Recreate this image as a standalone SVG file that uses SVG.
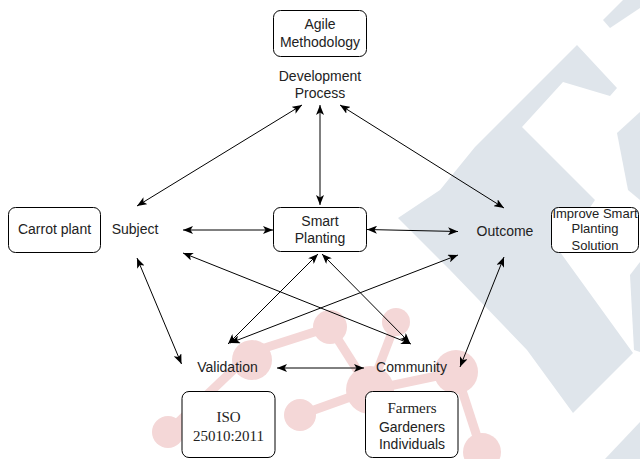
<svg xmlns="http://www.w3.org/2000/svg" width="640" height="459" viewBox="0 0 640 459">
<defs>
<style>
.bx{fill:#fff;stroke:#000;stroke-width:1}
.t{font-family:"Liberation Sans",Arial,sans-serif;font-size:14px;fill:#222;text-anchor:middle}
.t13{font-family:"Liberation Sans",Arial,sans-serif;font-size:13px;fill:#222;text-anchor:middle}
.s{font-family:"Liberation Serif","Times New Roman",serif;font-size:15px;fill:#222;text-anchor:middle}
#connectors line{stroke:#000;stroke-width:1;fill:none;marker-start:url(#ah);marker-end:url(#ah)}
.wb{fill:#dfe5eb}
.wp{fill:#f4d7d7}
.wpl{stroke:#f4d7d7;stroke-width:9;fill:none}
</style>
<marker id="ah" viewBox="0 0 10 8" refX="10" refY="4" markerWidth="10" markerHeight="8" markerUnits="userSpaceOnUse" orient="auto-start-reverse">
<path d="M0,0 L10,4 L0,8 L2.5,4 z" fill="#000"/>
</marker>
</defs>
<rect width="640" height="459" fill="#fff"/>
<g id="watermark">
<polygon class="wb" points="577,45 617,88 610,96 563,82 522,127 595,200 560,252 633,353 573,413 527,350 450,270 398,218 440,190 475,147"/>
<polygon class="wb" points="603,20 623,0 640,0 640,8 610,28"/>
<polygon class="wb" points="617,133 640,112 640,200 628,190"/>
<polygon class="wb" points="630,275 640,262 640,352 634,350"/>
<polygon class="wb" points="605,459 640,422 640,459"/>
<g class="wpl">
<line x1="330" y1="327" x2="370" y2="390"/>
<line x1="396" y1="322" x2="370" y2="390"/>
<line x1="252" y1="352" x2="330" y2="327"/>
<line x1="370" y1="390" x2="456" y2="372"/>
<line x1="370" y1="390" x2="300" y2="415"/>
<line x1="456" y1="372" x2="482" y2="452"/>
<line x1="252" y1="352" x2="168" y2="432"/>
</g>
<circle class="wp" cx="330" cy="327" r="17"/>
<circle class="wp" cx="396" cy="322" r="14"/>
<circle class="wp" cx="252" cy="360" r="20"/>
<circle class="wp" cx="370" cy="390" r="24"/>
<circle class="wp" cx="456" cy="372" r="22"/>
<circle class="wp" cx="300" cy="415" r="16"/>
<circle class="wp" cx="168" cy="432" r="16"/>
<circle class="wp" cx="482" cy="452" r="19"/>
</g>
<g id="connectors">
<line x1="302" y1="105" x2="137" y2="206"/>
<line x1="320" y1="105" x2="320" y2="205"/>
<line x1="340" y1="105" x2="504" y2="208"/>
<line x1="183" y1="230" x2="273" y2="230"/>
<line x1="367" y1="229.5" x2="458" y2="231.5"/>
<line x1="137" y1="258" x2="181.5" y2="364"/>
<line x1="183" y1="253" x2="411" y2="344"/>
<line x1="318" y1="254" x2="228" y2="344"/>
<line x1="322" y1="254" x2="410" y2="343"/>
<line x1="458" y1="255" x2="230" y2="343"/>
<line x1="504" y1="257" x2="460" y2="367"/>
<line x1="277" y1="368" x2="364" y2="368"/>
</g>
<g id="agile">
<rect class="bx" x="273.5" y="10.5" width="93" height="46" rx="7"/>
<text class="t" x="320" y="29">Agile</text>
<text class="t" x="320" y="47">Methodology</text>
</g>
<g id="development">
<text class="t" x="320" y="81">Development</text>
<text class="t" x="320" y="98">Process</text>
</g>
<g id="carrot">
<rect class="bx" x="8.5" y="207.5" width="92" height="45" rx="7"/>
<text class="t" x="54.5" y="234">Carrot plant</text>
</g>
<g id="subject">
<text class="t" x="135" y="234">Subject</text>
</g>
<g id="smart">
<rect class="bx" x="273.5" y="207.5" width="93" height="44" rx="7"/>
<text class="t" x="320" y="225.5">Smart</text>
<text class="t" x="320" y="243">Planting</text>
</g>
<g id="outcome">
<text class="t" x="505" y="235.5">Outcome</text>
</g>
<g id="improve">
<rect class="bx" x="551.5" y="207.5" width="87" height="45" rx="7"/>
<text class="t13" x="595" y="217.5">Improve Smart</text>
<text class="t13" x="595" y="233">Planting</text>
<text class="t13" x="595" y="249.5">Solution</text>
</g>
<g id="validation">
<text class="t" x="227.5" y="372">Validation</text>
</g>
<g id="community">
<text class="t" x="411.5" y="372">Community</text>
</g>
<g id="iso">
<rect class="bx" x="182" y="391.5" width="93" height="66" rx="7"/>
<text class="s" x="228.5" y="421.5">ISO</text>
<text class="s" x="228.5" y="441">25010:2011</text>
</g>
<g id="farmers">
<rect class="bx" x="365.5" y="391.5" width="92.5" height="66" rx="7"/>
<text class="s" x="412" y="412.5">Farmers</text>
<text class="t" x="412" y="431.5">Gardeners</text>
<text class="t" x="412" y="448.5">Individuals</text>
</g>
</svg>
